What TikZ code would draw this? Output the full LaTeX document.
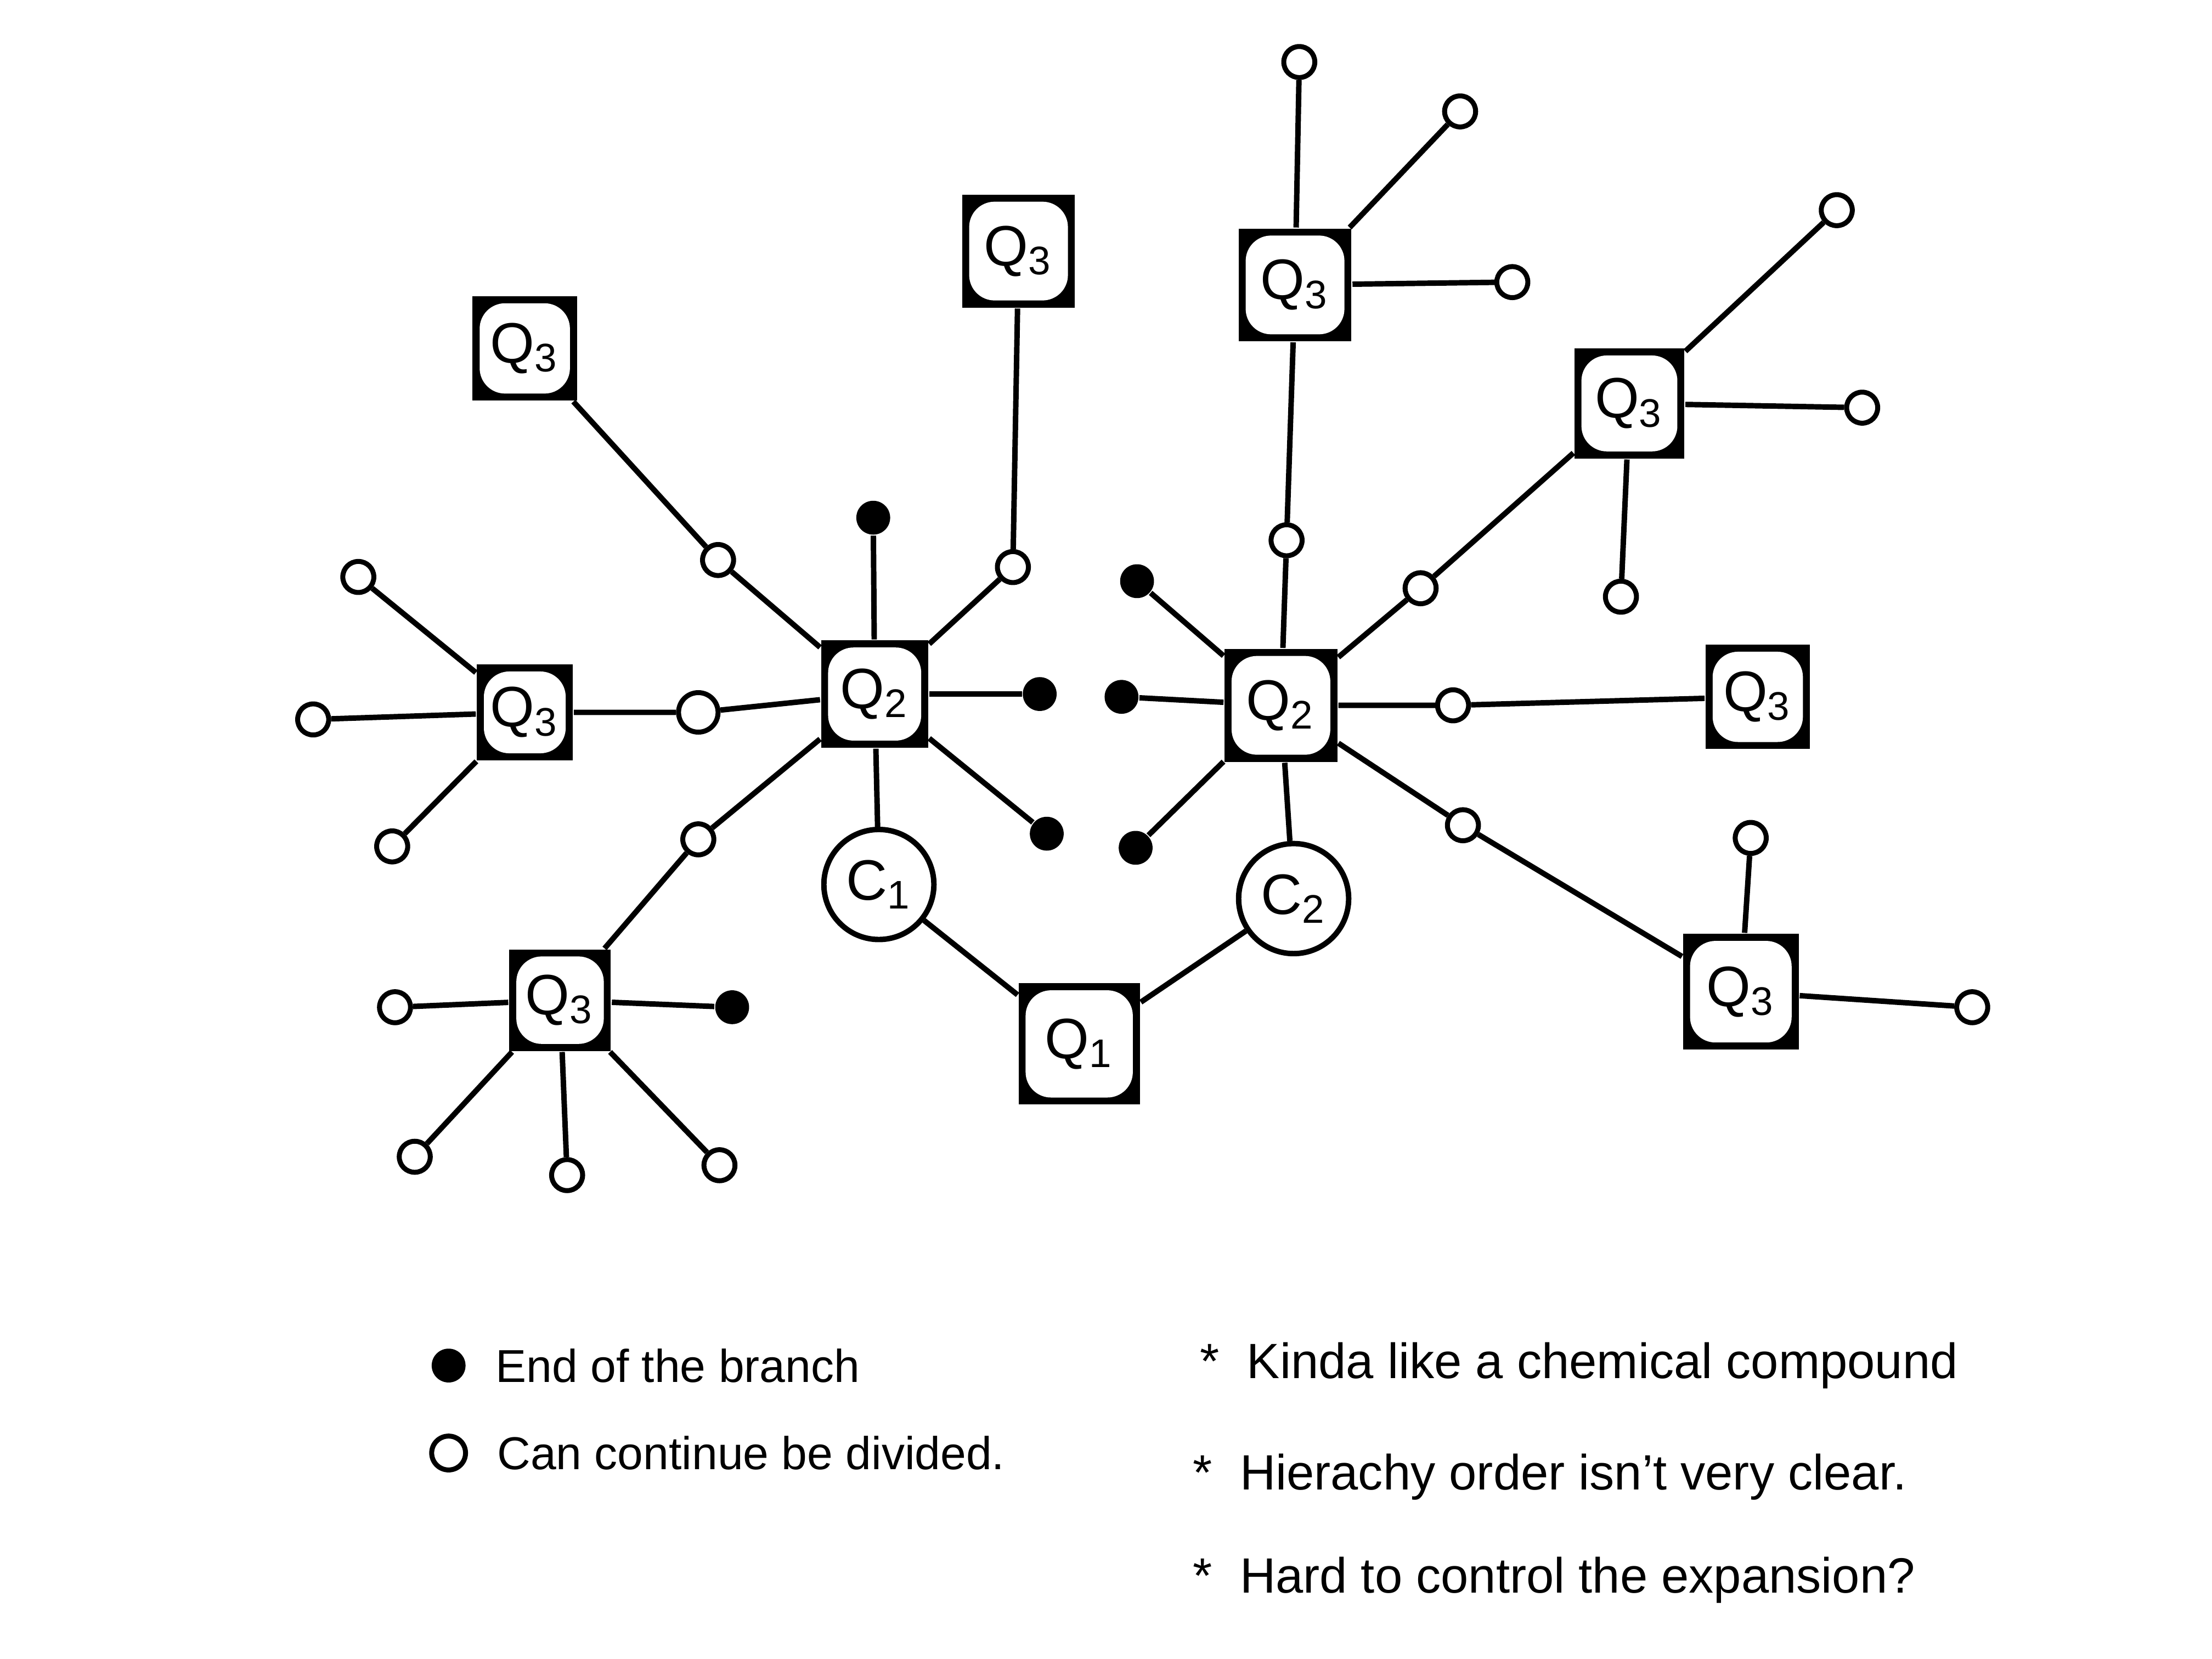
\documentclass[tikz,border=0pt]{standalone}
\usepackage{fontspec}
\setmainfont{Liberation Sans}
\usepackage{tikz}
\usetikzlibrary{positioning,calc}

\begin{document}
\begin{tikzpicture}[
  qbox/.style={fill=black,minimum size=#1,inner sep=0pt,font=\fontsize{11.5}{14}\selectfont,
    path picture={\fill[white,rounded corners=0.18cm]
      ($(path picture bounding box.south west)+(0.05,0.05)$) rectangle
      ($(path picture bounding box.north east)-(0.05,0.05)$);}},
  cnode/.style={draw,circle,line width=1.1pt,minimum size=0.78cm,inner sep=0pt,fill=white,
    font=\fontsize{11.5}{14}\selectfont},
  opendot/.style={draw,circle,line width=1pt,minimum size=0.22cm,inner sep=0pt,fill=white},
  enddot/.style={fill=black,circle,minimum size=0.24cm,inner sep=0pt},
  bond/.style={line width=1.1pt},
  notetext/.style={anchor=west,font=\fontsize{10}{12}\selectfont,inner sep=0pt}
]
  \useasboundingbox[fill=white] (0,0) rectangle (15.68,11.76);

  % core
  \node[qbox=0.86cm] (qone) at (7.65,4.36) {Q\textsubscript{1}};
  \node[cnode] (cone) at (6.23,5.49) {C\textsubscript{1}};
  \node[cnode] (ctwo) at (9.17,5.39) {C\textsubscript{2}};
  \node[qbox=0.76cm] (qtwoL) at (6.20,6.84) {Q\textsubscript{2}};
  \node[qbox=0.80cm] (qtwoR) at (9.08,6.76) {Q\textsubscript{2}};

  % left Q2 branches
  \node[enddot] (eLu) at (6.19,8.09) {};
  \node[enddot] (eLr) at (7.37,6.84) {};
  \node[enddot] (eLdr) at (7.42,5.85) {};
  \node[opendot] (oLur) at (7.18,7.74) {};
  \node[opendot] (oLul) at (5.09,7.79) {};
  \node[opendot,minimum size=0.28cm] (oLl) at (4.95,6.71) {};
  \node[opendot] (oLdl) at (4.95,5.81) {};
  \node[qbox=0.80cm] (qtopL) at (7.22,9.98) {Q\textsubscript{3}};
  \node[qbox=0.74cm] (qtl) at (3.72,9.29) {Q\textsubscript{3}};
  \node[qbox=0.68cm] (qleft) at (3.72,6.71) {Q\textsubscript{3}};
  \node[qbox=0.72cm] (qbl) at (3.97,4.67) {Q\textsubscript{3}};

  % leaves of left Q3s
  \node[opendot] (lfa) at (2.54,7.67) {};
  \node[opendot] (lfb) at (2.22,6.66) {};
  \node[opendot] (lfc) at (2.78,5.76) {};
  \node[opendot] (lfd) at (2.80,4.62) {};
  \node[enddot] (lfe) at (5.19,4.62) {};
  \node[opendot] (lff) at (2.94,3.56) {};
  \node[opendot] (lfg) at (4.02,3.43) {};
  \node[opendot] (lfh) at (5.10,3.50) {};

  % right Q2 branches
  \node[enddot] (eRul) at (8.06,7.64) {};
  \node[enddot] (eRl) at (7.95,6.82) {};
  \node[enddot] (eRdl) at (8.05,5.75) {};
  \node[opendot] (oRu) at (9.12,7.93) {};
  \node[opendot] (oRur) at (10.07,7.59) {};
  \node[opendot] (oRr) at (10.30,6.76) {};
  \node[opendot] (oRdr) at (10.37,5.91) {};
  \node[qbox=0.80cm] (qtopR) at (9.18,9.74) {Q\textsubscript{3}};
  \node[qbox=0.78cm] (qur) at (11.55,8.90) {Q\textsubscript{3}};
  \node[qbox=0.74cm] (qright) at (12.46,6.82) {Q\textsubscript{3}};
  \node[qbox=0.82cm] (qdr) at (12.34,4.73) {Q\textsubscript{3}};

  % leaves of right Q3s
  \node[opendot] (rfa) at (9.21,11.32) {};
  \node[opendot] (rfb) at (10.35,10.97) {};
  \node[opendot] (rfc) at (10.72,9.76) {};
  \node[opendot] (rfd) at (13.02,10.27) {};
  \node[opendot] (rfe) at (13.20,8.87) {};
  \node[opendot] (rff) at (11.49,7.53) {};
  \node[opendot] (rfg) at (12.41,5.82) {};
  \node[opendot] (rfh) at (13.98,4.62) {};

  % bonds
  \draw[bond] (qone) -- (cone);
  \draw[bond] (qone) -- (ctwo);
  \draw[bond] (cone) -- (qtwoL);
  \draw[bond] (ctwo) -- (qtwoR);
  \draw[bond] (qtwoL) -- (eLu);
  \draw[bond] (qtwoL) -- (eLr);
  \draw[bond] (qtwoL) -- (eLdr);
  \draw[bond] (qtwoL) -- (oLur) -- (qtopL);
  \draw[bond] (qtwoL) -- (oLul) -- (qtl);
  \draw[bond] (qtwoL) -- (oLl) -- (qleft);
  \draw[bond] (qtwoL) -- (oLdl) -- (qbl);
  \draw[bond] (qleft) -- (lfa);
  \draw[bond] (qleft) -- (lfb);
  \draw[bond] (qleft) -- (lfc);
  \draw[bond] (qbl) -- (lfd);
  \draw[bond] (qbl) -- (lfe);
  \draw[bond] (qbl) -- (lff);
  \draw[bond] (qbl) -- (lfg);
  \draw[bond] (qbl) -- (lfh);
  \draw[bond] (qtwoR) -- (eRul);
  \draw[bond] (qtwoR) -- (eRl);
  \draw[bond] (qtwoR) -- (eRdl);
  \draw[bond] (qtwoR) -- (oRu) -- (qtopR);
  \draw[bond] (qtwoR) -- (oRur) -- (qur);
  \draw[bond] (qtwoR) -- (oRr) -- (qright);
  \draw[bond] (qtwoR) -- (oRdr) -- (qdr);
  \draw[bond] (qtopR) -- (rfa);
  \draw[bond] (qtopR) -- (rfb);
  \draw[bond] (qtopR) -- (rfc);
  \draw[bond] (qur) -- (rfd);
  \draw[bond] (qur) -- (rfe);
  \draw[bond] (qur) -- (rff);
  \draw[bond] (qdr) -- (rfg);
  \draw[bond] (qdr) -- (rfh);

  % legend
  \node[enddot] (keyend) at (3.18,2.08) {};
  \node[opendot,minimum size=0.2cm,minimum height=0.24cm] (keyopen) at (3.18,1.46) {};
  \node[notetext,font=\fontsize{9.3}{11}\selectfont,right=0.2cm of keyend] (keyendtxt) {End of the branch};
  \node[notetext,font=\fontsize{9.3}{11}\selectfont,right=0.2cm of keyopen] (keyopentxt) {Can continue be divided.};
  \node[notetext] (noteone) at (8.50,2.08) {*\ \ Kinda like a chemical compound};
  \node[notetext] (notetwo) at (8.45,1.29) {*\ \ Hierachy order isn't very clear.};
  \node[notetext] (notethree) at (8.45,0.56) {*\ \ Hard to control the expansion?};
\end{tikzpicture}
\end{document}
